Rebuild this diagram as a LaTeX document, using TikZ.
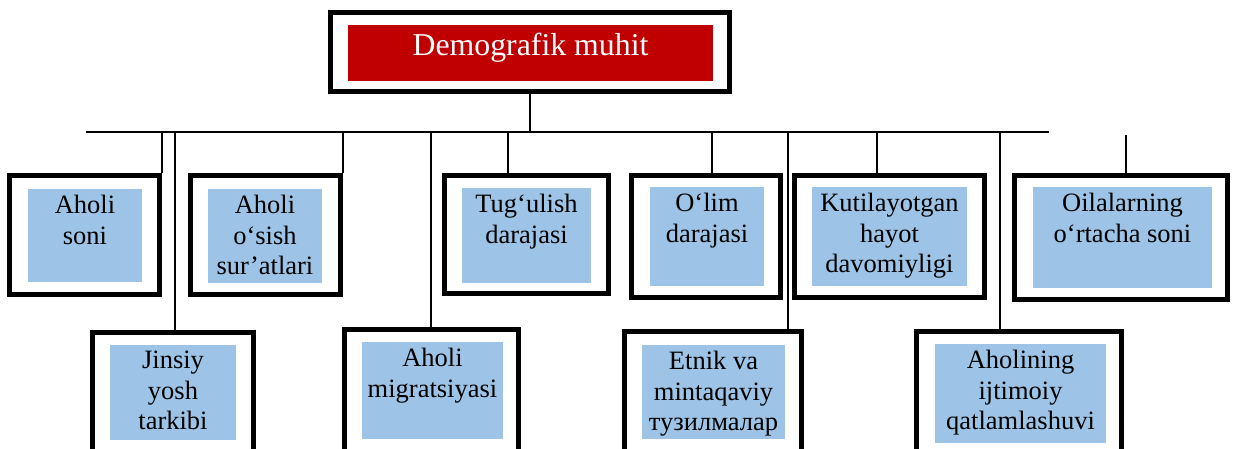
\documentclass[tikz,border=0pt]{standalone}
\usepackage{fontspec}
\setmainfont{Liberation Serif}
\usetikzlibrary{positioning}
\definecolor{headred}{HTML}{C00000}
\definecolor{cellblue}{HTML}{9DC3E6}
\begin{document}
\begin{tikzpicture}[x=1pt,y=1pt,
    outerbox/.style={draw,line width=5.3pt,fill=white,inner sep=0pt},
    cellbox/.style={fill=cellblue,inner sep=0pt},
    celltext/.style={align=center,inner sep=0pt,font=\fontsize{26.5}{30.7}\selectfont},
    headbox/.style={fill=headred,text=white,inner sep=0pt,font=\fontsize{31.8}{38}\selectfont,
      text height=21.7pt,text depth=17.1pt},
    link/.style={line width=1.8pt}]
  \useasboundingbox (0,0) rectangle (1238,-448);
  \clip (0,0) rectangle (1238,-448);
  \coordinate (busl) at (86,-132);
  \coordinate (busr) at (1049,-132);
  \coordinate (j1) at (162,-132);
  \coordinate (j7) at (175,-132);
  \coordinate (j2) at (343,-132);
  \coordinate (j8) at (431,-132);
  \coordinate (j3) at (508,-132);
  \coordinate (j4) at (712,-132);
  \coordinate (j9) at (788,-132);
  \coordinate (j5) at (877,-132);
  \coordinate (j10) at (1000,-132);
  \coordinate (j6) at (1126,-135);
  \node[outerbox,minimum width=399,minimum height=79] (ftop) at (530,-52) {};
  \node[headbox,minimum width=365,minimum height=56] (top) at (530.5,-53) {Demografik muhit};
  \node[outerbox,minimum width=150,minimum height=119] (f1) at (84.5,-235) {};
  \node[cellbox,minimum width=114,minimum height=93] (c1) at (85,-235.5) {};
  \node[celltext,below=6pt of c1.north] (t1) {Aholi\\soni};
  \node[outerbox,minimum width=150,minimum height=119] (f2) at (265.5,-235) {};
  \node[cellbox,minimum width=114,minimum height=94] (c2) at (265,-236) {};
  \node[celltext,below=6pt of c2.north] (t2) {Aholi\\o‘sish\\sur’atlari};
  \node[outerbox,minimum width=164,minimum height=118] (f3) at (526.5,-234.5) {};
  \node[cellbox,minimum width=129,minimum height=95] (c3) at (526.5,-235.5) {};
  \node[celltext,below=6pt of c3.north] (t3) {Tug‘ulish\\darajasi};
  \node[outerbox,minimum width=149,minimum height=122] (f4) at (706,-236.5) {};
  \node[cellbox,minimum width=114,minimum height=99] (c4) at (707,-236.5) {};
  \node[celltext,below=6pt of c4.north] (t4) {O‘lim\\darajasi};
  \node[outerbox,minimum width=190,minimum height=122] (f5) at (889.5,-236.5) {};
  \node[cellbox,minimum width=155,minimum height=99] (c5) at (889.5,-236.5) {};
  \node[celltext,below=6pt of c5.north] (t5) {Kutilayotgan\\hayot\\davomiyligi};
  \node[outerbox,minimum width=213,minimum height=124] (f6) at (1121,-237.5) {};
  \node[cellbox,minimum width=179,minimum height=101] (c6) at (1122.5,-237.5) {};
  \node[celltext,below=6pt of c6.north] (t6) {Oilalarning\\o‘rtacha soni};
  \node[outerbox,minimum width=161,minimum height=120] (f7) at (173,-392.5) {};
  \node[cellbox,minimum width=126,minimum height=95] (c7) at (173,-392.5) {};
  \node[celltext,below=6pt of c7.north] (t7) {Jinsiy\\yosh\\tarkibi};
  \node[outerbox,minimum width=174,minimum height=122] (f8) at (431.5,-390.5) {};
  \node[cellbox,minimum width=141,minimum height=97] (c8) at (432.5,-390.5) {};
  \node[celltext,below=6pt of c8.north] (t8) {Aholi\\migratsiyasi};
  \node[outerbox,minimum width=177,minimum height=121] (f9) at (713,-392) {};
  \node[cellbox,minimum width=143,minimum height=94] (c9) at (713.5,-392) {};
  \node[celltext,below=6pt of c9.north] (t9) {Etnik va\\mintaqaviy\\тузилмалар};
  \node[outerbox,minimum width=205,minimum height=123] (f10) at (1019,-393) {};
  \node[cellbox,minimum width=171,minimum height=99] (c10) at (1020.5,-393.5) {};
  \node[celltext,below=6pt of c10.north] (t10) {Aholining\\ijtimoiy\\qatlamlashuvi};
  \draw[link] (busl) -- (busr);
  \draw[link] (ftop) -- (ftop |- busl);
  \draw[link] (j1) -- (j1 |- f1.north);
  \draw[link] (j2) -- (j2 |- f2.north);
  \draw[link] (j3) -- (j3 |- f3.north);
  \draw[link] (j4) -- (j4 |- f4.north);
  \draw[link] (j5) -- (j5 |- f5.north);
  \draw[link] (j6) -- (j6 |- f6.north);
  \draw[link] (j7) -- (j7 |- f7.north);
  \draw[link] (j8) -- (j8 |- f8.north);
  \draw[link] (j9) -- (j9 |- f9.north);
  \draw[link] (j10) -- (j10 |- f10.north);
\end{tikzpicture}
\end{document}
